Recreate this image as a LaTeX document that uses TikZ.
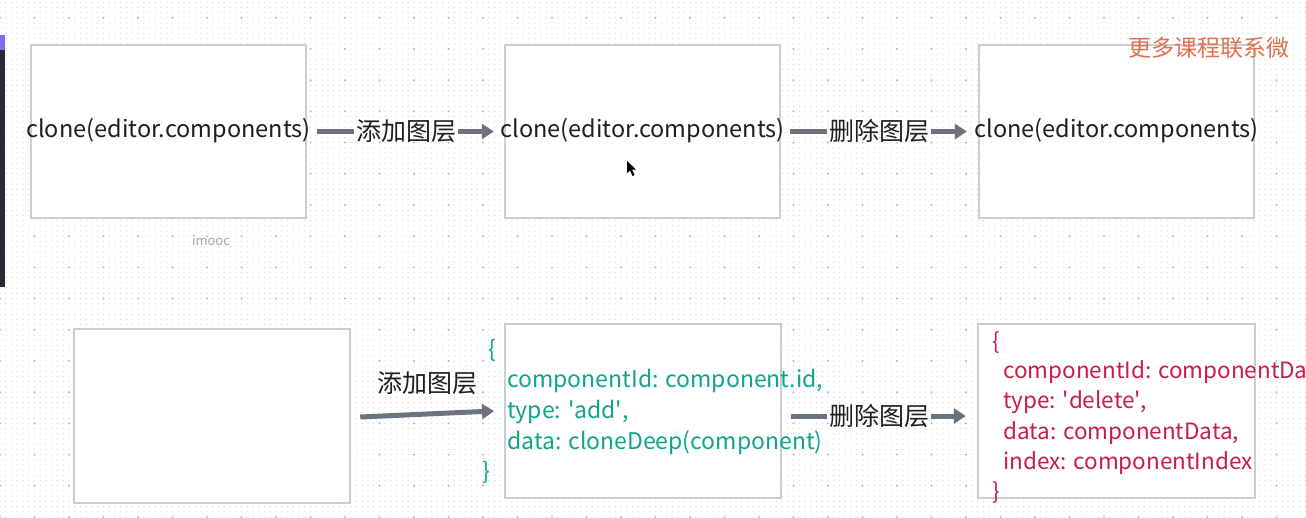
\documentclass[tikz,border=0pt]{standalone}
\usepackage{fontspec}
\setmainfont{Noto Sans CJK SC}
\usetikzlibrary{arrows.meta, positioning, calc, patterns}
\definecolor{BoxGray}{HTML}{C9CDD4}
\definecolor{ArrowGray}{HTML}{6B7280}
\definecolor{CodeTeal}{HTML}{0FA58C}
\definecolor{CodeRed}{HTML}{C81E45}
\definecolor{InkBlack}{HTML}{1F1F1F}
\definecolor{MarkOrange}{HTML}{E0714F}
\definecolor{DotLight}{HTML}{D6D9DF}
\definecolor{DotDark}{HTML}{B0B5BE}
\definecolor{BarDark}{HTML}{262A31}
\definecolor{BarPurple}{HTML}{7B6CF2}

% 背景点阵
\pgfdeclarepatternformonly{minordots}{\pgfqpoint{-1pt}{-1pt}}{\pgfqpoint{1pt}{1pt}}{\pgfqpoint{5.75pt}{5.2pt}}{%
    \pgfpathcircle{\pgfqpoint{0pt}{0pt}}{0.65pt}\pgfusepath{fill}}
\pgfdeclarepatternformonly{majordots}{\pgfqpoint{-2pt}{-2pt}}{\pgfqpoint{2pt}{2pt}}{\pgfqpoint{34.5pt}{31.2pt}}{%
    \pgfpathcircle{\pgfqpoint{0pt}{0pt}}{1.1pt}\pgfusepath{fill}}

\newcommand{\qt}{\textquotesingle}

\begin{document}
\begin{tikzpicture}[
    % 以像素为单位
    x=1pt, y=-1pt,
    % 样式定义
    frame/.style={
        rectangle,
        draw=BoxGray,
        line width=2.5pt,
        fill=white,
        minimum width=275pt,
        minimum height=173pt,
        inner sep=0pt
    },
    cloneText/.style={font=\fontsize{23.5}{28}\selectfont, text=InkBlack, inner sep=0pt},
    stepLabel/.style={font=\fontsize{25}{28}\selectfont, text=InkBlack, inner sep=2pt},
    tealCode/.style={font=\fontsize{23}{31}\selectfont, text=CodeTeal, align=left, inner sep=0pt},
    redCode/.style={font=\fontsize{22.5}{30.5}\selectfont, text=CodeRed, align=left, inner sep=0pt},
    flowLine/.style={line width=5pt, ArrowGray},
    flowArrow/.style={flowLine, -{Triangle[length=12pt, width=15pt]}}
]

    % ====== 0. 背景 ======
    \useasboundingbox (0,0) rectangle (1306,517);
    \fill[white] (0,0) rectangle (1306,517);
    \fill[pattern=minordots, pattern color=DotLight] (0,0) rectangle (1306,517);
    \fill[pattern=majordots, pattern color=DotDark] (0,0) rectangle (1306,517);

    % 左侧工具条
    \fill[BarDark] (0,35) rectangle (5,287);
    \fill[BarPurple] (0,35) rectangle (5,50);

    % ====== 1. 上排:三个方框 ======
    \node[frame] (top1) at (168.5,131.5) {};
    \node[frame] (top2) at (642.5,131.5) {};
    \node[frame] (top3) at (1116.5,131.5) {};

    \node[cloneText] (t1) at ([yshift=1pt]top1.center) {clone(editor.components)};
    \node[cloneText] (t2) at ([yshift=1pt]top2.center) {clone(editor.components)};
    \node[cloneText] (t3) at ([yshift=1pt]top3.center) {clone(editor.components)};

    \node[font=\fontsize{13}{15}\selectfont, text=gray!70] (mark) at (211,241) {imooc};

    % 连接箭头
    \node[stepLabel] (addTop) at (406,131.5) {添加图层};
    \draw[flowLine] ([xshift=10pt]top1.east) -- (addTop.west);
    \draw[flowArrow] (addTop.east) -- ([xshift=-10pt]top2.west);

    \node[stepLabel] (delTop) at (879,131.5) {删除图层};
    \draw[flowLine] ([xshift=9pt]top2.east) -- (delTop.west);
    \draw[flowArrow] (delTop.east) -- ([xshift=-11pt]top3.west);

    % 鼠标指针
    \fill[black] (627,161) -- (627,173) -- (630,170.5) -- (632.5,176) -- (634.5,175) -- (632,169.5) -- (636,169.5) -- cycle;

    % ====== 2. 下排:三个方框 ======
    \node[frame, minimum width=276pt, minimum height=174pt] (bot1) at (212,416) {};
    \node[frame, minimum width=276pt, minimum height=174pt] (bot2) at (643,411) {};
    \node[frame, minimum width=277pt, minimum height=174pt] (bot3) at (1116.5,411) {};

    % 添加图层的记录
    \node[tealCode] (addOpen) at (492,350) {\{};
    \node[tealCode, anchor=west] (addBody) at (507,412) {componentId: component.id,\\type: \qt add\qt,\\data: cloneDeep(component)};
    \node[tealCode] (addClose) at (486,472) {\}};

    % 删除图层的记录
    \node[redCode] (delOpen) at (996,342) {\{};
    \node[redCode, anchor=west] (delBody) at (1003,417.5) {componentId: componentDa\\type: \qt delete\qt,\\data: componentData,\\index: componentIndex};
    \node[redCode] (delClose) at (996,492) {\}};

    % 连接箭头
    \node[stepLabel] (addBot) at (427,383) {添加图层};
    \draw[flowArrow] ($(bot1.east)+(9,1)$) -- ($(addBody.west)+(-13,-1)$);

    \node[stepLabel] (delBot) at (879,416) {删除图层};
    \draw[flowLine] ($(bot2.east |- delBot.west)+(9,0)$) -- (delBot.west);
    \draw[flowArrow] (delBot.east) -- ($(bot3.west |- delBot.east)+(-11,0)$);

    % 水印
    \node[font=\fontsize{23}{26}\selectfont, text=MarkOrange, anchor=west, inner sep=0pt] (wm) at (1128,48) {更多课程联系微};

\end{tikzpicture}
\end{document}
